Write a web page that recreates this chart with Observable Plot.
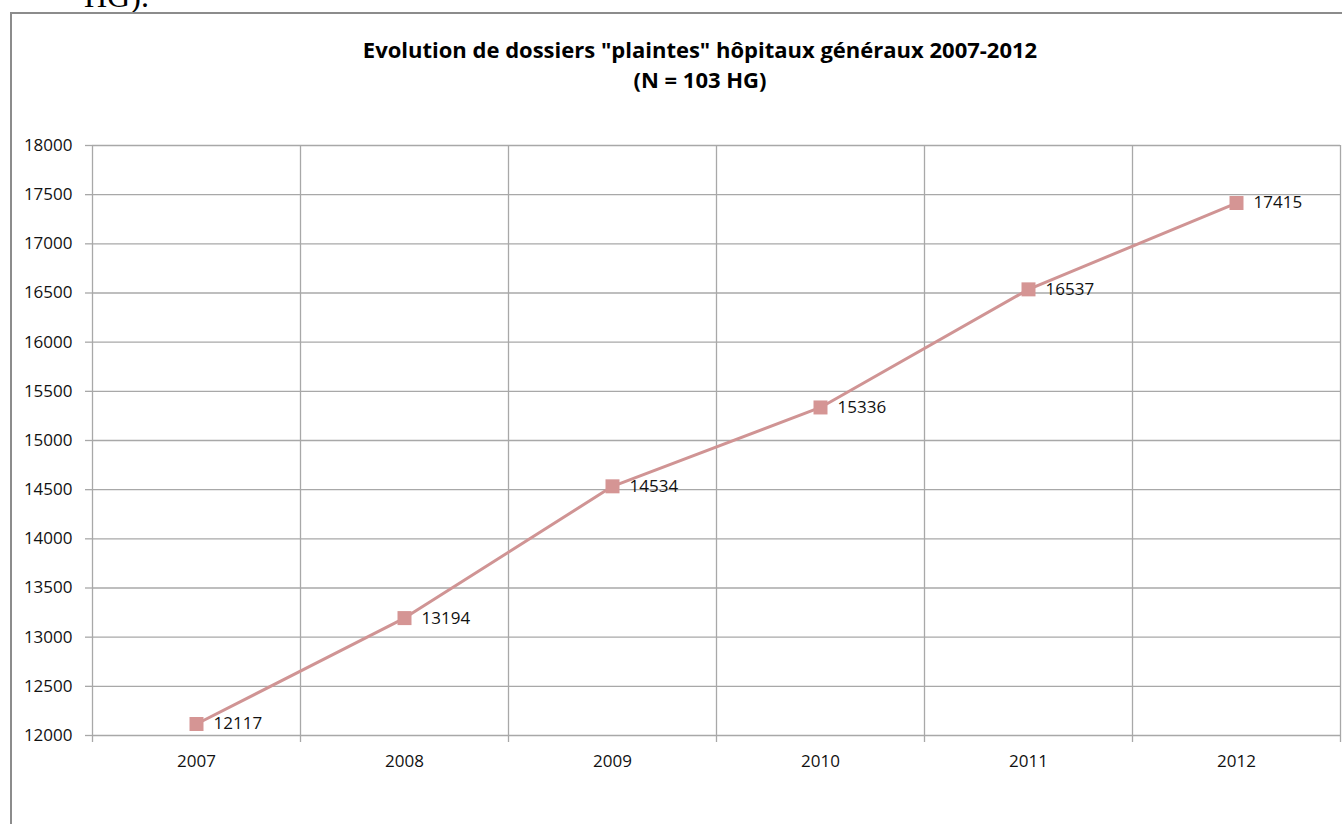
<!DOCTYPE html>
<html><head><meta charset="utf-8">
<script src="https://cdn.jsdelivr.net/npm/d3@7"></script>
<script src="https://cdn.jsdelivr.net/npm/@observablehq/plot@0.6"></script>
<style>
body{margin:0;background:#fff;overflow:hidden}
#wrap{position:relative;width:1342px;height:824px;overflow:hidden;font-family:"Open Sans",sans-serif}
#frame{position:absolute;left:10px;top:12px;width:1340px;height:830px;border:2px solid #8c8c8c;box-sizing:border-box}
#prev{position:absolute;left:84px;top:-24px;font-family:"Liberation Serif",serif;font-size:32px;color:#000;line-height:40px}
#title{position:absolute;left:0;width:1400px;top:34px;text-align:center;font-weight:bold;font-size:22px;line-height:30px;color:#000;letter-spacing:0}
#chart{position:absolute;left:0;top:0}
</style></head>
<body>
<div id="wrap">
  <div id="prev">HG).</div>
  <div id="frame"></div>
  <div id="title">Evolution de dossiers "plaintes" hôpitaux généraux 2007-2012<br>(N = 103 HG)</div>
  <div id="chart"></div>
</div>
<script>
const years = [2007, 2008, 2009, 2010, 2011, 2012];
const values = [12117, 13194, 14534, 15336, 16537, 17415];
const yTicks = [12000, 12500, 13000, 13500, 14000, 14500, 15000, 15500, 16000, 16500, 17000, 17500, 18000];

const data = years.map((y, i) => ({year: y, value: values[i]}));
const bounds = [years[0] - 0.5, ...years.map(y => y + 0.5)];
const grid = "#a8a8a8";
const font = "'Open Sans', sans-serif";

const chart = Plot.plot({
  width: 1342,
  height: 824,
  marginLeft: 92,
  marginRight: 2,
  marginTop: 145,
  marginBottom: 89,
  style: {fontFamily: font, fontSize: "17px", color: "#111", background: "transparent"},
  x: {domain: [bounds[0], bounds[bounds.length - 1]], axis: null, label: null},
  y: {domain: [yTicks[0], yTicks[yTicks.length - 1]], axis: null, label: null},
  marks: [
    Plot.ruleY(yTicks, {y: d => d, stroke: grid, strokeWidth: 1.3}),
    Plot.ruleX(bounds, {x: d => d, stroke: grid, strokeWidth: 1.3}),
    Plot.axisY({ticks: yTicks, tickSize: 7, tickPadding: 13, stroke: grid, strokeWidth: 1.3, fill: "#111", tickFormat: d => String(d), fontSize: 17, label: null}),
    Plot.axisX({ticks: bounds, tickSize: 7, stroke: grid, strokeWidth: 1.3, tickFormat: () => "", label: null}),
    Plot.axisX({ticks: years, tickSize: 0, tickPadding: 19, fill: "#111", tickFormat: d => String(d), fontSize: 17, label: null}),
    Plot.line(data, {x: "year", y: "value", stroke: "#d09494", strokeWidth: 3}),
    Plot.dot(data, {x: "year", y: "value", symbol: "square", r: 7.9, fill: "#d59594", stroke: "none"}),
    Plot.text(data, {x: "year", y: "value", text: d => String(d.value), dx: 17, textAnchor: "start", fontSize: 17, fill: "#111"})
  ]
});
document.getElementById("chart").appendChild(chart);
</script>
</body></html>
